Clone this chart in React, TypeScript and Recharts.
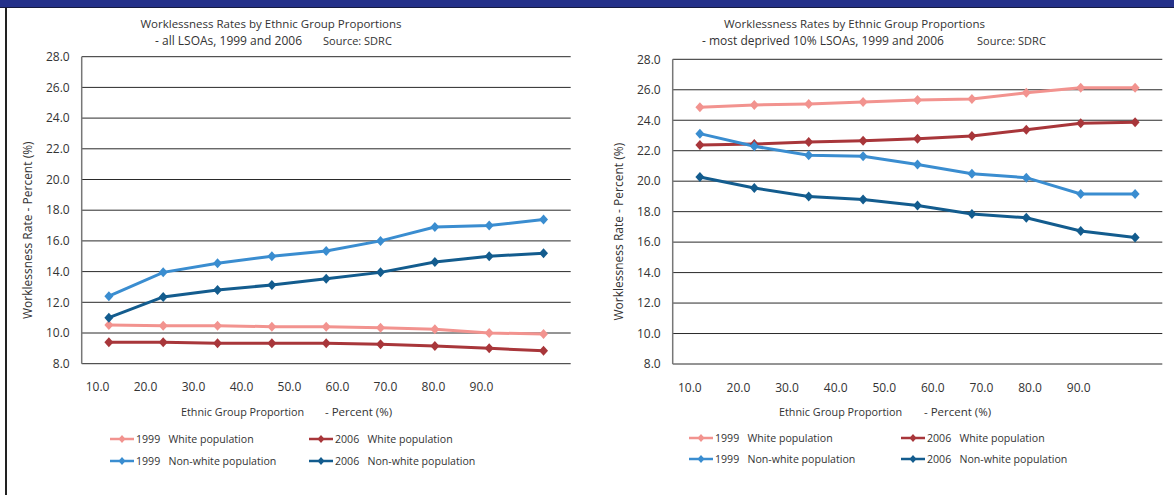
import React from "react";
import { LineChart, Line, XAxis, YAxis, CartesianGrid } from "recharts";

const FONT = "'Open Sans', sans-serif";

const categories = [10, 20, 30, 40, 50, 60, 70, 80, 90];
const yTicks = [8, 10, 12, 14, 16, 18, 20, 22, 24, 26, 28];

const leftWhite1999 = [10.52, 10.48, 10.48, 10.41, 10.41, 10.35, 10.24, 10.0, 9.93];
const leftWhite2006 = [9.4, 9.4, 9.33, 9.33, 9.33, 9.26, 9.15, 9.0, 8.85];
const leftNonWhite1999 = [12.4, 13.95, 14.54, 15.0, 15.34, 16.0, 16.9, 17.0, 17.4];
const leftNonWhite2006 = [11.0, 12.35, 12.8, 13.13, 13.54, 13.95, 14.63, 15.0, 15.2];

const rightWhite1999 = [24.85, 25.0, 25.07, 25.2, 25.33, 25.4, 25.8, 26.14, 26.14];
const rightWhite2006 = [22.37, 22.44, 22.57, 22.66, 22.79, 22.96, 23.38, 23.8, 23.86];
const rightNonWhite1999 = [23.12, 22.29, 21.7, 21.63, 21.1, 20.49, 20.23, 19.16, 19.16];
const rightNonWhite2006 = [20.27, 19.55, 19.0, 18.8, 18.41, 17.84, 17.6, 16.73, 16.31];

const seriesKeys = ["w1999", "w2006", "nw1999", "nw2006"];
const seriesNames = [
  "1999   White population",
  "2006   White population",
  "1999   Non-white population",
  "2006   Non-white population",
];
const seriesColors = ["#F2938F", "#A8363A", "#3A8DD0", "#135C8E"];

function buildData(a: number[], b: number[], c: number[], d: number[]) {
  return categories.map((x, i) => ({ x, w1999: a[i], w2006: b[i], nw1999: c[i], nw2006: d[i] }));
}

const leftData = buildData(leftWhite1999, leftWhite2006, leftNonWhite1999, leftNonWhite2006);
const rightData = buildData(rightWhite1999, rightWhite2006, rightNonWhite1999, rightNonWhite2006);

const Diamond = (props: any) => {
  const { cx, cy, color } = props;
  if (cx == null || cy == null) return null;
  return (
    <polygon
      points={`${cx},${cy - 5} ${cx + 4.5},${cy} ${cx},${cy + 5} ${cx - 4.5},${cy}`}
      fill={color}
    />
  );
};

const LegendIcon = ({ color }: { color: string }) => (
  <svg width={24} height={10} style={{ display: "block" }}>
    <line x1={0} y1={5} x2={24} y2={5} stroke={color} strokeWidth={2.5} />
    <polygon points="12,1 15.5,5 12,9 8.5,5" fill={color} />
  </svg>
);

const Txt = ({ x, y, size, children }: { x: number; y: number; size: number; children: any }) => (
  <div
    style={{
      position: "absolute",
      left: x,
      top: y - 9,
      height: 18,
      lineHeight: "18px",
      fontFamily: FONT,
      fontSize: size,
      color: "#333",
      whiteSpace: "pre",
    }}
  >
    {children}
  </div>
);

type PanelProps = {
  left: number;
  width: number;
  data: any[];
  margin: { top: number; right: number; left: number; bottom: number };
  lblDomain: [number, number];
  title1: string;
  title2: string;
  titleCx: number;
  title2X: number;
  sourceX: number;
  xTitleX: number;
  xTitle2X: number;
  legendCols: number[];
  legendRows: number[];
};

const Panel = (p: PanelProps) => {
  return (
    <div style={{ position: "absolute", left: p.left, top: 0, width: p.width, height: 495 }}>
      <LineChart width={p.width} height={495} data={p.data} margin={p.margin}>
        <CartesianGrid
          xAxisId="pts"
          yAxisId="y"
          vertical={false}
          stroke="#2a2a2a"
          strokeWidth={1}
        />
        <XAxis xAxisId="pts" dataKey="x" type="number" domain={[5, 95]} hide />
        <XAxis
          xAxisId="lbl"
          dataKey="x"
          type="number"
          domain={p.lblDomain}
          ticks={categories}
          allowDataOverflow
          tickFormatter={(v: number) => v.toFixed(1)}
          axisLine={false}
          tickLine={false}
          tickSize={0}
          tickMargin={19}
          height={30}
          tick={{ fill: "#333", fontSize: 12, fontFamily: FONT }}
        />
        <YAxis
          yAxisId="y"
          type="number"
          domain={[8, 28]}
          ticks={yTicks}
          tickFormatter={(v: number) => v.toFixed(1)}
          axisLine={{ stroke: "#777", strokeWidth: 1.5 }}
          tickLine={false}
          tickSize={0}
          tickMargin={12}
          width={60}
          tick={{ fill: "#333", fontSize: 12, fontFamily: FONT }}
          label={{
            content: (lp: any) => {
              const vb = lp.viewBox || {};
              const x = vb.x + 5.5;
              const y = vb.y + vb.height / 2 + 20;
              return (
                <text
                  x={x}
                  y={y}
                  transform={`rotate(-90, ${x}, ${y})`}
                  textAnchor="middle"
                  dominantBaseline="central"
                  fill="#333"
                  fontSize={12}
                  fontFamily={FONT}
                >
                  Worklessness Rate - Percent (%)
                </text>
              );
            },
          }}
        />
        {seriesKeys.map((k, i) => (
          <Line
            key={k}
            xAxisId="pts"
            yAxisId="y"
            dataKey={k}
            name={seriesNames[i]}
            stroke={seriesColors[i]}
            strokeWidth={3}
            isAnimationActive={false}
            dot={(dp: any) => <Diamond key={`${k}-${dp.index}`} {...dp} color={seriesColors[i]} />}
            activeDot={false}
          />
        ))}
      </LineChart>
      <div
        style={{
          position: "absolute",
          left: p.titleCx - 250,
          width: 500,
          top: 15,
          height: 18,
          lineHeight: "18px",
          textAlign: "center",
          fontFamily: FONT,
          fontSize: 11.5,
          color: "#333",
          whiteSpace: "pre",
        }}
      >
        {p.title1}
      </div>
      <Txt x={p.title2X} y={41} size={12}>{p.title2}</Txt>
      <Txt x={p.sourceX} y={41} size={11}>Source: SDRC</Txt>
      <Txt x={p.xTitleX} y={411.5} size={10.8}>Ethnic Group Proportion</Txt>
      <Txt x={p.xTitle2X} y={411.5} size={11.5}>- Percent (%)</Txt>
      {seriesKeys.map((k, i) => (
        <div
          key={k}
          style={{
            position: "absolute",
            left: p.legendCols[i % 2],
            top: p.legendRows[Math.floor(i / 2)] - 8,
            height: 16,
            display: "flex",
            alignItems: "center",
            fontFamily: FONT,
            fontSize: 10.6,
            color: "#333",
            whiteSpace: "pre",
          }}
        >
          <LegendIcon color={seriesColors[i]} />
          <span style={{ marginLeft: 2 }}>{seriesNames[i]}</span>
        </div>
      ))}
    </div>
  );
};

export default function App() {
  return (
    <div
      style={{
        position: "absolute",
        left: 0,
        top: 0,
        width: 1174,
        height: 495,
        background: "#fff",
        overflow: "hidden",
      }}
    >
      <div
        style={{
          position: "absolute",
          left: 0,
          top: 0,
          width: 1174,
          height: 7,
          background: "#24318A",
          borderBottom: "1px solid #151a40",
        }}
      />
      <div
        style={{ position: "absolute", left: 5, top: 8, width: 2, height: 487, background: "#222" }}
      />
      <Panel
        left={0}
        width={590}
        data={leftData}
        margin={{ top: 56.7, right: 19.3, left: 21.7, bottom: 101.3 }}
        lblDomain={[6.7, 108.6]}
        title1="Worklessness Rates by Ethnic Group Proportions"
        title2="- all LSOAs, 1999 and 2006"
        titleCx={271}
        title2X={155}
        sourceX={323}
        xTitleX={181}
        xTitle2X={325}
        legendCols={[110, 309]}
        legendRows={[439, 460.7]}
      />
      <Panel
        left={590}
        width={584}
        data={rightData}
        margin={{ top: 59.3, right: 11.7, left: 22.7, bottom: 101 }}
        lblDomain={[6.48, 107.2]}
        title1="Worklessness Rates by Ethnic Group Proportions"
        title2="- most deprived 10% LSOAs, 1999 and 2006"
        titleCx={264.5}
        title2X={112}
        sourceX={387}
        xTitleX={189}
        xTitle2X={334}
        legendCols={[99, 311]}
        legendRows={[438, 459.3]}
      />
    </div>
  );
}
